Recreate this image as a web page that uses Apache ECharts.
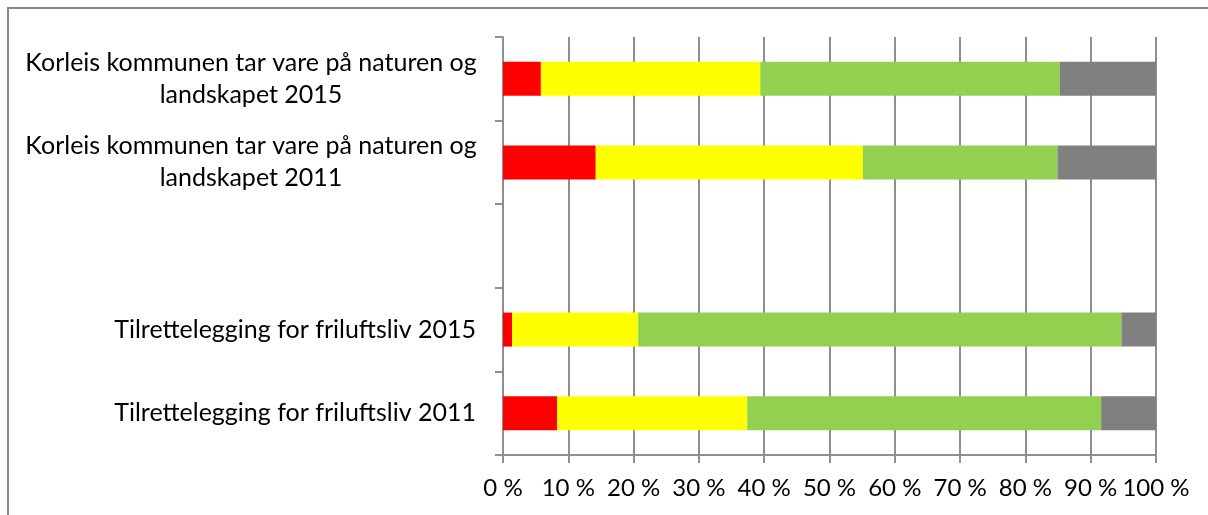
<!DOCTYPE html>
<html>
<head>
<meta charset="utf-8">
<script src="https://cdn.jsdelivr.net/npm/echarts@6/dist/echarts.min.js"></script>
<style>
  html, body { margin: 0; padding: 0; background: #fff; }
  #chart { width: 1208px; height: 515px; }
</style>
</head>
<body>
<div id="chart"></div>
<script>
// kategoriar, frå øvst til nedst (tom rad i midten)
var categories = [
  'Korleis kommunen tar vare på naturen og\nlandskapet 2015',
  'Korleis kommunen tar vare på naturen og\nlandskapet 2011',
  '',
  'Tilrettelegging for friluftsliv 2015',
  'Tilrettelegging for friluftsliv 2011'
]
// prosentdelar per svaralternativ
var redVals = [5.8, 14.2, null, 1.4, 8.3]
var yellowVals = [33.6, 40.9, null, 19.3, 29.1]
var greenVals = [45.9, 29.8, null, 74.0, 54.2]
var greyVals = [14.7, 15.1, null, 5.3, 8.4]

var lineColor = '#8f8f8f'
var fontName = 'Lato'

function barSeries(name, color, vals) {
  return {
    name: name,
    type: 'bar',
    stack: 'total',
    barWidth: 34,
    itemStyle: {color: color},
    data: vals
  }
}

var myChart = echarts.init(document.getElementById('chart'))
var option = {
  backgroundColor: '#fff',
  animation: false,
  grid: {
    left: 503,
    top: 37,
    right: 52,
    bottom: 60
  },
  xAxis: {
    type: 'value',
    min: 0,
    max: 100,
    interval: 10,
    axisLine: {show: true, lineStyle: {color: lineColor, width: 2}},
    axisTick: {show: true, length: 8, lineStyle: {color: lineColor, width: 2}},
    splitLine: {show: true, lineStyle: {color: lineColor, width: 2}},
    axisLabel: {
      formatter: '{value} %',
      color: '#000',
      fontFamily: fontName,
      fontSize: 24,
      margin: 21
    }
  },
  yAxis: {
    type: 'category',
    inverse: true,
    data: categories,
    axisLine: {show: true, lineStyle: {color: lineColor, width: 2}},
    axisTick: {show: true, length: 8, lineStyle: {color: lineColor, width: 2}},
    splitLine: {show: false},
    axisLabel: {
      color: '#000',
      fontFamily: fontName,
      fontSize: 25,
      lineHeight: 32,
      margin: 27,
      align: 'right',
      // to-linjers etikettar er midtstilte i blokka, som i Excel
      formatter: function (val) {
        if (val.indexOf('\n') < 0) return val
        return val.split('\n').map(function (s) { return '{c|' + s + '}' }).join('\n')
      },
      rich: {
        c: {
          width: 450,
          align: 'center',
          fontFamily: fontName,
          fontSize: 25,
          lineHeight: 32,
          color: '#000'
        }
      }
    }
  },
  series: [
    barSeries('Dårleg', '#ff0000', redVals),
    barSeries('Middels', '#ffff00', yellowVals),
    barSeries('God', '#92d050', greenVals),
    barSeries('Veit ikkje', '#808080', greyVals)
  ],
  graphic: [{
    // ramme rundt diagrammet
    type: 'rect',
    shape: {x: 8, y: 8, width: 1300, height: 600},
    style: {fill: 'none', stroke: '#8a8a8a', lineWidth: 2},
    silent: true
  }]
}
myChart.setOption(option)
window.onresize = function () {
  myChart.resize()
}
</script>
</body>
</html>
